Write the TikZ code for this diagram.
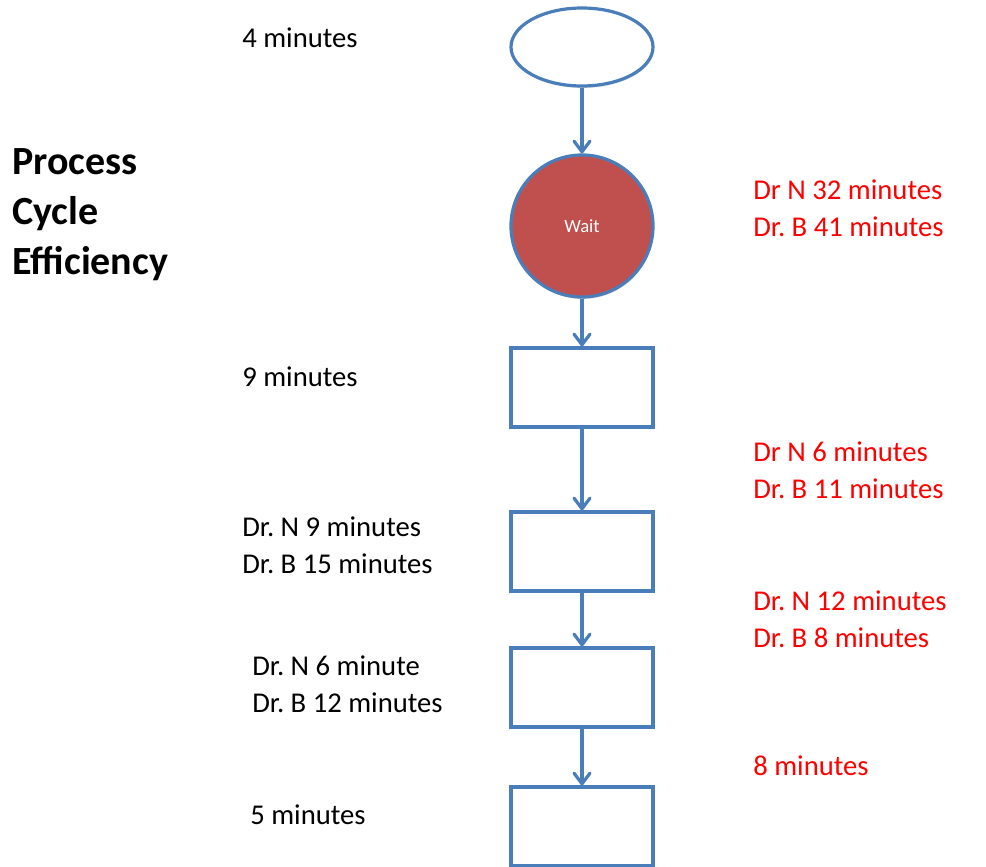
\documentclass[tikz,border=0pt]{standalone}
\usepackage{fontspec}
\setmainfont{Carlito}
\frenchspacing
\usetikzlibrary{arrows.meta,shapes.geometric,shadows}

\definecolor{flowblue}{RGB}{74,126,187}
\definecolor{waitred}{RGB}{192,80,77}
\definecolor{notered}{RGB}{255,0,0}

\tikzset{
	stage/.style={draw=flowblue,line width=2.4pt,fill=white,
		drop shadow={opacity=0.25,shadow xshift=0.6pt,shadow yshift=-1.5pt}},
	stepbox/.style={stage,rectangle,minimum width=106.5pt,minimum height=59.25pt},
	flow/.style={draw=flowblue,line width=2.4pt,
		-{Straight Barb[length=8pt,width=12pt,line width=2.4pt,round]}},
	timenote/.style={anchor=west,inner sep=0pt,align=left,
		font=\fontsize{21.5}{27.75}\selectfont},
	rednote/.style={timenote,text=notered}
}

\begin{document}
\begin{tikzpicture}[x=0.75pt,y=-0.75pt]
	\useasboundingbox (0,0) rectangle (986,867);

	\node[stage,ellipse,minimum width=106.5pt,minimum height=58.5pt] (start) at (582,47) {};
	\node[stage,circle,fill=waitred,minimum size=106.5pt,text=white,
		font=\fontsize{14}{16}\selectfont] (wait) at (582,226) {Wait};
	\node[stepbox] (boxA) at (582,387.5) {};
	\node[stepbox] (boxB) at (582,551.5) {};
	\node[stepbox] (boxC) at (582,687.5) {};
	\node[stepbox] (boxD) at (582,826.5) {};

	\draw[flow] (start) -- (wait);
	\draw[flow] (wait) -- (boxA);
	\draw[flow] (boxA) -- (boxB);
	\draw[flow] (boxB) -- (boxC);
	\draw[flow] (boxC) -- (boxD);

	% title
	\node[anchor=west,inner sep=0pt,align=left,
		font=\fontsize{30}{37.5}\selectfont\bfseries] (title) at (12,215)
		{Process\\Cycle\\Efficiency};

	% times on the left
	\node[timenote] (tStart) at (242,38) {4 minutes};
	\node[timenote] (tA) at (242,377) {9 minutes};
	\node[timenote] (tB) at (242,545.5) {Dr. N 9 minutes\\Dr. B 15 minutes};
	\node[timenote] (tC) at (252,684) {Dr. N 6 minute\\Dr. B 12 minutes};
	\node[timenote] (tD) at (250,815) {5 minutes};

	% waits on the right
	\node[rednote] (wWait) at (753,208.5) {Dr N 32 minutes\\Dr. B 41 minutes};
	\node[rednote] (wAB) at (753,470) {Dr N 6 minutes\\Dr. B 11 minutes};
	\node[rednote] (wBC) at (753,619.5) {Dr. N 12 minutes\\Dr. B 8 minutes};
	\node[rednote] (wCD) at (753,766) {8 minutes};
\end{tikzpicture}
\end{document}
